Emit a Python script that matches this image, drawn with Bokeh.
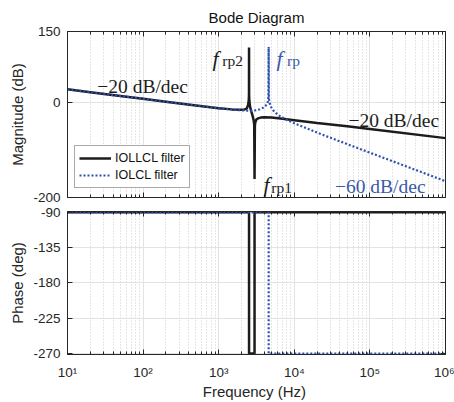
from bokeh.plotting import figure
from bokeh.models import (Range1d, LinearAxis, LogAxis, FixedTicker, CustomJSTickFormatter,
                          Label, Legend, LegendItem)
from bokeh.layouts import column
from bokeh.embed import file_html
from bokeh.resources import INLINE

# ---------------- data ----------------
freq_iollcl = [10, 20, 50, 100, 200, 500, 1000, 1500, 2000, 2200, 2350, 2450, 2500, 2515,
               2520, 2525, 2540, 2600, 2700, 2800, 2900, 2950, 2980, 3010, 3050, 3150, 3300,
               3600, 4000, 5000, 7000, 10000, 20000, 50000, 100000, 1000000]
mag_iollcl = [28.0, 22.0, 14.0, 8.0, 2.0, -5.9, -11.9, -14.2, -14.8, -14.3, -12.5, -5.0, 5.5, 17.0,
              116.0, 17.0, 4.6, -8.9, -19.0, -27.0, -37.0, -46.7, -161.0, -48.1, -41.5, -35.6, -33.2,
              -31.5, -30.8, -31.5, -34.0, -37.0, -42.8, -49.7, -55.5, -74.8]

freq_iolcl = [10, 20, 50, 100, 200, 500, 1000, 1500, 2000, 2500, 3000, 3500, 3900, 4200, 4400,
              4500, 4550, 4580, 4610, 4650, 4800, 5100, 5500, 6500, 8000, 10000, 20000, 50000,
              100000, 1000000]
mag_iolcl = [28.0, 22.0, 14.0, 8.0, 2.0, -5.9, -11.9, -14.5, -16.2, -16.9, -16.5, -14.0, -10.5, -6.0, -1.5,
             4.2, 12.5, 117.5, 12.3, 4.9, -5.5, -13.8, -19.7, -28.8, -36.3, -43.5, -63.2, -87.4,
             -105.5, -165.6]

phase_freq_iollcl = [10, 2520, 2520, 2980, 2980, 1000000]
phase_iollcl = [-90, -90, -270, -270, -90, -90]
phase_freq_iolcl = [10, 4580, 4580, 1000000]
phase_iolcl = [-90, -90, -270, -270]

x_ticks = [10, 100, 1000, 10000, 100000, 1000000]
x_tick_labels = ["10\u00b9", "10\u00b2", "10\u00b3", "10\u2074", "10\u2075", "10\u2076"]
mag_ticks = [-200, 0, 150]
mag_tick_labels = ["-200", "0", "150"]
phase_ticks = [-270, -225, -180, -135, -90]
phase_tick_labels = ["-270", "-225", "-180", "-135", "-90"]

series_names = ["IOLLCL filter", "IOLCL filter"]
x_label = "Frequency  (Hz)"

# annotation texts: (text, x[Hz], y[dB], kind, colour-key)
ann_texts = ["\u221220 dB/dec", "\u221220 dB/dec", "\u221260 dB/dec", "f", "rp2", "f", "rp", "f", "rp1"]
ann_x = [24.8, 52000, 34480, 830, 1116, 5822, 8010, 3918, 4955]
ann_y = [33.4, -38.0, -177.4, 92.5, 88.0, 92.5, 88.0, -173.6, -178.3]
ann_kind = ["main", "main", "main", "f", "sub", "f", "sub", "f", "sub"]
ann_col = ["k", "k", "b", "k", "k", "b", "b", "k", "k"]

# ---------------- styling ----------------
BLACK = "#1c1c1c"
BLUE = "#2e50b0"
BLUE_TXT = "#3a5aa8"
AX = "#262626"
SANS = "Liberation Sans"
SERIF = "Liberation Serif"

minor = []
for d in x_ticks[:-1]:
    for m in range(2, 10):
        minor.append(d * m)


def fmt(tvals, tlabels):
    return CustomJSTickFormatter(args=dict(tv=tvals, tl=tlabels), code="""
        for (let i = 0; i < tv.length; i++) {
            if (Math.abs(tv[i] - tick) <= 1e-6 * Math.max(1, Math.abs(tv[i]))) return tl[i];
        }
        return "";
    """)


def style_axis(ax, show_labels):
    ax.axis_line_color = AX
    ax.major_tick_line_color = AX
    ax.minor_tick_line_color = AX
    ax.major_tick_in = 5
    ax.major_tick_out = 0
    ax.minor_tick_in = 3
    ax.minor_tick_out = 0
    ax.major_label_text_color = AX
    ax.major_label_text_font = SANS
    ax.major_label_text_font_size = "13.5px"
    ax.major_label_standoff = 7 if show_labels else 0
    ax.axis_label_text_font = SANS
    ax.axis_label_text_font_style = "normal"
    ax.axis_label_text_color = AX
    ax.axis_label_text_font_size = "15px"


def make_fig(height, yr, yticks, ylabels, ylabel, top_border, bottom_border, show_x_labels):
    p = figure(width=454, height=height, x_axis_type="log",
               x_range=Range1d(10, 1000000), y_range=Range1d(*yr),
               output_backend="svg", toolbar_location=None,
               min_border_left=67, min_border_right=9,
               min_border_top=top_border, min_border_bottom=bottom_border)
    p.outline_line_color = AX
    p.background_fill_color = "white"
    p.border_fill_color = "white"
    xt = FixedTicker(ticks=x_ticks, minor_ticks=minor)
    yt = FixedTicker(ticks=yticks, minor_ticks=[])
    bottom = p.below[0]
    left = p.left[0]
    bottom.ticker = xt
    if show_x_labels:
        bottom.formatter = fmt(x_ticks, x_tick_labels)
        bottom.axis_label = x_label
    else:
        bottom.formatter = fmt(x_ticks, [""] * len(x_ticks))
    style_axis(bottom, show_x_labels)
    bottom.major_label_standoff = 10 if show_x_labels else 0
    bottom.axis_label_standoff = 0
    left.ticker = yt
    left.formatter = fmt(yticks, ylabels)
    left.axis_label = ylabel
    style_axis(left, True)
    left.axis_label_standoff = 4
    top = LogAxis(ticker=xt, formatter=fmt(x_ticks, [""] * len(x_ticks)))
    style_axis(top, False)
    p.add_layout(top, "above")
    right = LinearAxis(ticker=yt, formatter=fmt(yticks, [""] * len(yticks)))
    style_axis(right, False)
    p.add_layout(right, "right")
    p.xgrid.grid_line_color = "#e3e3e3"
    p.xgrid.minor_grid_line_color = "#cdcdcd"
    p.xgrid.minor_grid_line_dash = "1 2"
    p.ygrid.grid_line_color = "#e3e3e3"
    p.ygrid.ticker = yt
    p.xgrid.ticker = xt
    return p


p1 = make_fig(204, (-200, 150), mag_ticks, mag_tick_labels, "Magnitude (dB)", 31, 7, False)
p1.title.text = "Bode Diagram"
p1.title.align = "center"
p1.title.text_font = SANS
p1.title.text_font_size = "15px"
p1.title.text_font_style = "normal"
p1.title.text_color = "#111111"
p1.title.standoff = 12

r1 = p1.line(freq_iollcl, mag_iollcl, line_color=BLACK, line_width=2.5)
r2 = p1.line(freq_iolcl, mag_iolcl, line_color=BLUE, line_width=2.2, line_dash="2 2")

legend = Legend(items=[LegendItem(label=series_names[0], renderers=[r1]),
                       LegendItem(label=series_names[1], renderers=[r2])],
                location=(7, 9), padding=4, spacing=1, margin=0,
                glyph_width=32, glyph_height=16, label_height=16, label_standoff=4,
                label_text_font=SANS, label_text_font_size="12.5px", label_text_color="#111111",
                border_line_color="#555555", border_line_width=1,
                background_fill_color="white", background_fill_alpha=1.0)
p1.add_layout(legend, "center")

for t, x, y, k, c in zip(ann_texts, ann_x, ann_y, ann_kind, ann_col):
    size = {"main": "19.5px", "f": "22px", "sub": "15.5px"}[k]
    style = "italic" if k == "f" else "normal"
    col = BLACK if c == "k" else BLUE_TXT
    p1.add_layout(Label(x=x, y=y, text=t, text_font=SERIF, text_font_size=size,
                        text_font_style=style, text_color=col,
                        text_align="left", text_baseline="alphabetic"))

p2 = make_fig(198, (-271.27, -88.99), phase_ticks, phase_tick_labels, "Phase (deg)", 7, 47, True)
p2.line(phase_freq_iollcl, phase_iollcl, line_color=BLACK, line_width=2.5)
p2.line(phase_freq_iolcl, phase_iolcl, line_color=BLUE, line_width=2.2, line_dash="2 2")

layout = column(p1, p2, spacing=0)
open("out.html", "w").write(file_html(layout, INLINE))
